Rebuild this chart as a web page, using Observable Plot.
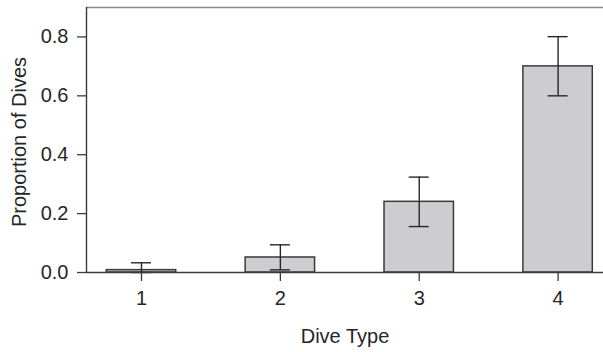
<!DOCTYPE html>
<html>
<head>
<meta charset="utf-8">
<script src="https://cdn.jsdelivr.net/npm/d3@7"></script>
<script src="https://cdn.jsdelivr.net/npm/@observablehq/plot@0.6"></script>
<style>
  html, body { margin: 0; padding: 0; background: #fff; }
  #chart svg { display: block; }
</style>
</head>
<body>
<div id="chart"></div>
<script>
// Data
const diveTypes = [1, 2, 3, 4];
const proportions = [0.008, 0.051, 0.240, 0.700];
const errLow = [0.000, 0.009, 0.156, 0.600];
const errHigh = [0.033, 0.094, 0.324, 0.801];
const yTicks = [0, 0.2, 0.4, 0.6, 0.8];

const data = diveTypes.map((t, i) => ({type: t, value: proportions[i], lo: errLow[i], hi: errHigh[i]}));

const xDomain = [0.604, 4.327];
const yDomain = [0, 0.9];
const halfBar = 0.25;
const halfCap = 0.072;
const ink = "#262626";

const chart = Plot.plot({
  width: 603,
  height: 352,
  marginLeft: 86,
  marginRight: 0,
  marginTop: 7,
  marginBottom: 80,
  style: {fontFamily: "'Liberation Sans', Arial, sans-serif", fontSize: "20px", color: ink, background: "#fff"},
  x: {type: "linear", domain: xDomain},
  y: {domain: yDomain},
  marks: [
    Plot.rect(data, {x1: d => d.type - halfBar, x2: d => d.type + halfBar, y1: 0, y2: "value", fill: "#cdcdcf", stroke: "#3a3a3a", strokeWidth: 1.5}),
    Plot.ruleX(data, {x: "type", y1: "lo", y2: "hi", stroke: ink, strokeWidth: 1.4}),
    Plot.ruleY(data, {y: "hi", x1: d => d.type - halfCap, x2: d => d.type + halfCap, stroke: ink, strokeWidth: 1.4}),
    Plot.ruleY(data, {y: "lo", x1: d => d.type - halfCap, x2: d => d.type + halfCap, stroke: ink, strokeWidth: 1.4}),
    Plot.ruleY([yDomain[0]], {stroke: "#3a3a3a", strokeWidth: 1.4}),
    Plot.ruleY([yDomain[1]], {stroke: "#8a8a8a", strokeWidth: 1.4}),
    Plot.ruleX([xDomain[0]], {stroke: "#3a3a3a", strokeWidth: 1.4}),
    Plot.axisY({ticks: yTicks, tickFormat: d3.format(".1f"), tickSize: 9, tickPadding: 9, stroke: "#3a3a3a", strokeWidth: 1.3, fill: ink, fontSize: 20, label: null}),
    Plot.axisX({ticks: diveTypes, tickFormat: d3.format("d"), tickSize: 9, tickPadding: 9, stroke: "#3a3a3a", strokeWidth: 1.3, fill: ink, fontSize: 20, label: null}),
    Plot.text(["Dive Type"], {frameAnchor: "bottom", lineAnchor: "bottom", textAnchor: "middle", dy: 70, fontSize: 20, fill: ink}),
    Plot.text(["Proportion of Dives"], {frameAnchor: "left", lineAnchor: "bottom", textAnchor: "middle", rotate: -90, dx: -61, dy: 2, fontSize: 20, fill: ink})
  ]
});
document.getElementById("chart").appendChild(chart);
</script>
</body>
</html>
